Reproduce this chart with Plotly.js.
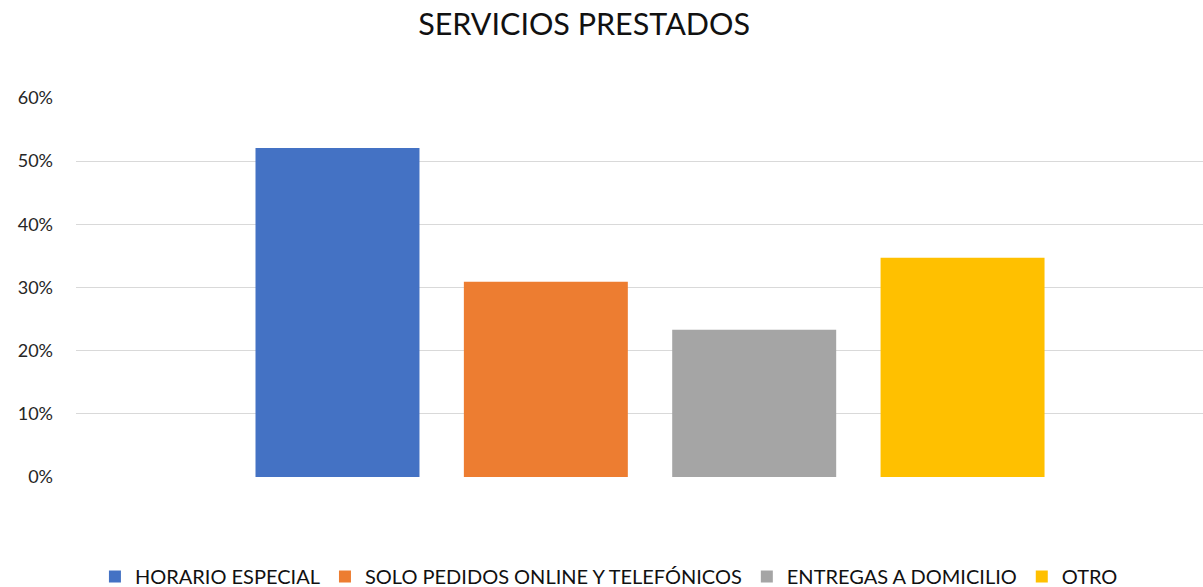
<!DOCTYPE html>
<html>
<head>
<meta charset="utf-8">
<script src="https://cdn.plot.ly/plotly-3.0.1.min.js"></script>
<style>html,body{margin:0;padding:0;background:#fff;}#chart{width:1203px;height:587px;}</style>
</head>
<body>
<div id="chart"></div>
<script>
const seriesNames = ["HORARIO ESPECIAL", "SOLO PEDIDOS ONLINE Y TELEFÓNICOS", "ENTREGAS A DOMICILIO", "OTRO"];
const seriesValues = [0.521, 0.309, 0.233, 0.347];
const seriesColors = ["#4472C4", "#ED7D31", "#A5A5A5", "#FFC000"];
const yTickValues = [0, 0.1, 0.2, 0.3, 0.4, 0.5, 0.6];
const yTickLabels = ["0%", "10%", "20%", "30%", "40%", "50%", "60%"];

const FONT = "Lato, 'Open Sans', sans-serif";

const traces = seriesNames.map((name, i) => ({
  type: "bar",
  name: name,
  x: [name],
  y: [seriesValues[i]],
  width: 0.787,
  marker: { color: seriesColors[i], line: { width: 0 } },
  hoverinfo: "skip"
}));

const layout = {
  width: 1203,
  height: 587,
  paper_bgcolor: "#ffffff",
  plot_bgcolor: "#ffffff",
  margin: { l: 76, r: 0, t: 98, b: 110, pad: 0, autoexpand: false },
  barmode: "overlay",
  showlegend: true,
  title: {
    text: "SERVICIOS PRESTADOS",
    font: { family: FONT, size: 30.5, color: "#111111" },
    x: 0.4508, xref: "paper", xanchor: "center",
    y: 1 - 24 / 587, yref: "container", yanchor: "middle"
  },
  xaxis: {
    type: "category",
    categoryorder: "array",
    categoryarray: seriesNames,
    range: [-1.255, 4.154],
    showticklabels: false,
    showgrid: false,
    zeroline: false,
    showline: false,
    ticks: "",
    fixedrange: true
  },
  yaxis: {
    range: [0, 0.6],
    tickvals: yTickValues,
    ticktext: yTickLabels,
    showgrid: true,
    gridcolor: "#D9D9D9",
    gridwidth: 1.3,
    zeroline: false,
    showline: false,
    ticks: "",
    ticklabelstandoff: 22,
    automargin: false,
    tickfont: { family: FONT, size: 18, color: "#262626" },
    fixedrange: true
  },
  legend: {
    orientation: "h",
    x: 0.0168,
    xref: "paper",
    xanchor: "left",
    y: -0.314,
    yref: "paper",
    yanchor: "bottom",
    font: { family: FONT, size: 20, color: "#111111" },
    itemclick: false,
    itemdoubleclick: false
  }
};

Plotly.newPlot("chart", traces, layout, { displayModeBar: false, staticPlot: true });
</script>
</body>
</html>
